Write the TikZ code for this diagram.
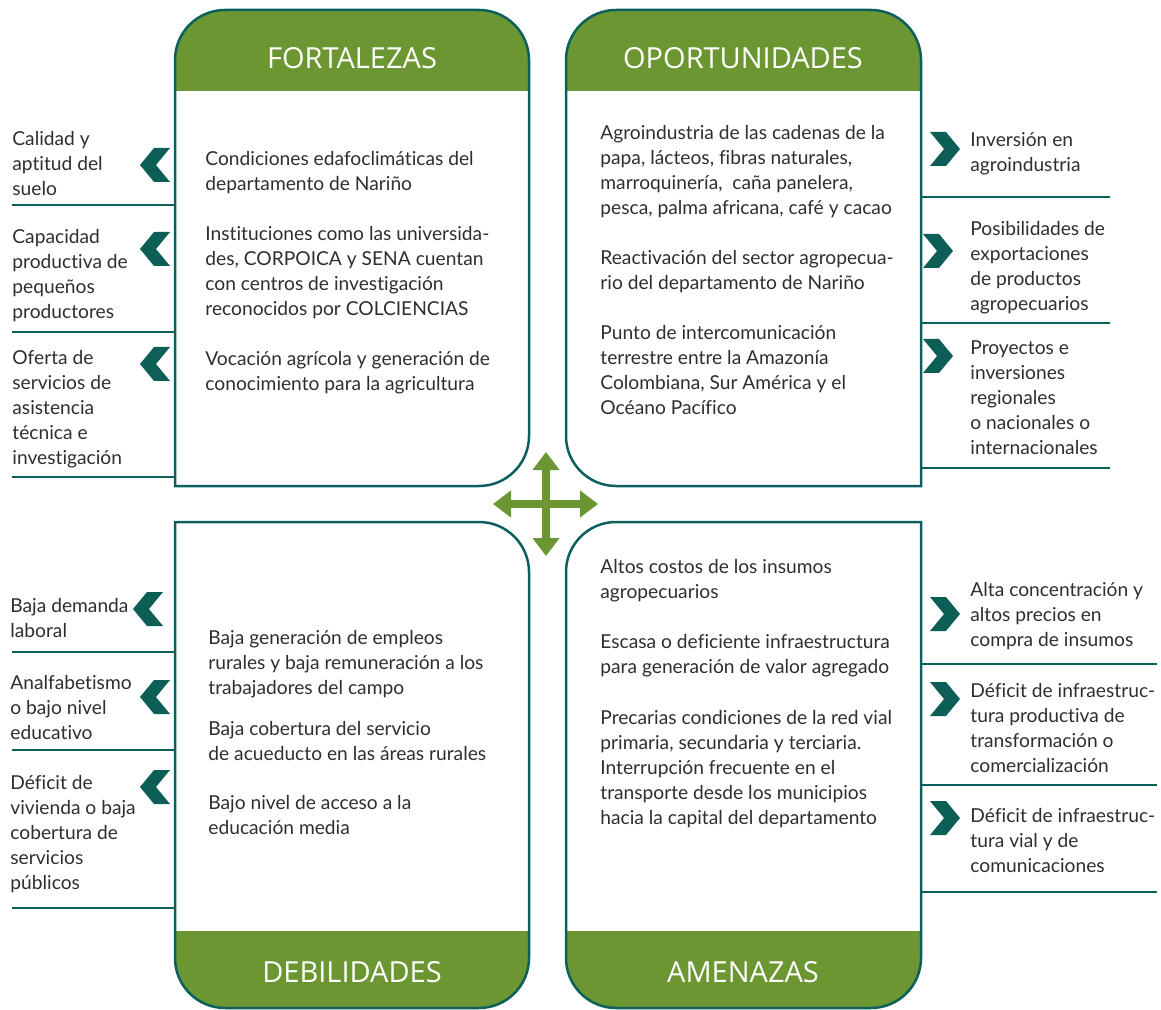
\documentclass[tikz,border=0pt]{standalone}
\usepackage{fontspec}
\usetikzlibrary{arrows.meta,positioning}
\newfontfamily\bodyfont[Ligatures=NoCommon]{Lato}
\newfontfamily\headfont{Open Sans}
\definecolor{swgreen}{HTML}{6B9632}
\definecolor{swteal}{HTML}{0B5F5D}
\definecolor{swchev}{HTML}{0C5E56}
\definecolor{swtext}{HTML}{2E2E2E}
\tikzset{
  quadline/.style={draw=swteal, line width=1.25pt},
  band/.style={fill=swgreen},
  headtext/.style={text=white, inner sep=0pt, font=\headfont\fontsize{14.5}{16}\selectfont},
  bodytext/.style={anchor=north west, align=left, inner sep=0pt, yshift=-1.5pt, text=swtext, font=\bodyfont\fontsize{9.6}{12.5}\selectfont},
  sepline/.style={draw=swteal, line width=1.3pt},
  crossarrow/.style={{Triangle[width=13pt,length=9pt]}-{Triangle[width=13pt,length=9pt]}, draw=swgreen, line width=4pt},
  chevleft/.pic={\fill[swchev] (-15,0) -- (-1,-17) -- (15,-17) -- (1,0) -- (15,17) -- (-1,17) -- cycle;},
  chevright/.pic={\fill[swchev] (15,0) -- (1,-17) -- (-15,-17) -- (-1,0) -- (-15,17) -- (1,17) -- cycle;}
}

\begin{document}
\begin{tikzpicture}[x=0.5pt, y=-0.5pt]
\useasboundingbox (0,0) rectangle (1161,1010);

% green bands
\fill[band] (175,91) -- (175,60) arc[start angle=180, end angle=270, radius=50] -- (479,10) arc[start angle=270, end angle=360, radius=50] -- (529,91) -- cycle;
\fill[band] (566,91) -- (566,60) arc[start angle=180, end angle=270, radius=50] -- (871,10) arc[start angle=270, end angle=360, radius=50] -- (921,91) -- cycle;
\fill[band] (175,931) -- (529,931) -- (529,958) arc[start angle=0, end angle=90, radius=50] -- (225,1008) arc[start angle=90, end angle=180, radius=50] -- cycle;
\fill[band] (566,931) -- (921,931) -- (921,958) arc[start angle=0, end angle=90, radius=50] -- (616,1008) arc[start angle=90, end angle=180, radius=50] -- cycle;

% the four boxes
\draw[quadline] (175,486) -- (175,60) arc[start angle=180, end angle=270, radius=50] -- (479,10) arc[start angle=270, end angle=360, radius=50] -- (529,436) arc[start angle=0, end angle=90, radius=50] -- cycle;
\draw[quadline] (921,486) -- (616,486) arc[start angle=90, end angle=180, radius=50] -- (566,60) arc[start angle=180, end angle=270, radius=50] -- (871,10) arc[start angle=270, end angle=360, radius=50] -- cycle;
\draw[quadline] (175,522) -- (479,522) arc[start angle=270, end angle=360, radius=50] -- (529,958) arc[start angle=0, end angle=90, radius=50] -- (225,1008) arc[start angle=90, end angle=180, radius=50] -- cycle;
\draw[quadline] (921,522) -- (921,958) arc[start angle=0, end angle=90, radius=50] -- (616,1008) arc[start angle=90, end angle=180, radius=50] -- (566,572) arc[start angle=180, end angle=270, radius=50] -- cycle;

% titles
\node[headtext] (fort) at (352,58) {FORTALEZAS};
\node[headtext] (opor) at (743,58) {OPORTUNIDADES};
\node[headtext] (debi) at (352,972) {DEBILIDADES};
\node[headtext] (amen) at (743,972) {AMENAZAS};

% box contents
\node[bodytext] (fort1) at (205,148) {Condiciones edafoclimáticas del\\departamento de Nariño};
\node[bodytext] (fort2) at (205,223) {Instituciones como las universida-\\des, CORPOICA y SENA cuentan\\con centros de investigación\\reconocidos por COLCIENCIAS};
\node[bodytext] (fort3) at (205,348) {Vocación agrícola y generación de\\conocimiento para la agricultura};

\node[bodytext] (opor1) at (600,122) {Agroindustria de las cadenas de la\\papa, lácteos, fibras naturales,\\marroquinería, \ caña panelera,\\pesca, palma africana, café y cacao};
\node[bodytext] (opor2) at (600,247) {Reactivación del sector agropecua-\\rio del departamento de Nariño};
\node[bodytext] (opor3) at (600,322) {Punto de intercomunicación\\terrestre entre la Amazonía\\Colombiana, Sur América y el\\Océano Pacífico};

\node[bodytext] (debi1) at (208,627) {Baja generación de empleos\\rurales y baja remuneración a los\\trabajadores del campo};
\node[bodytext] (debi2) at (208,718) {Baja cobertura del servicio\\de acueducto en las áreas rurales};
\node[bodytext] (debi3) at (208,792) {Bajo nivel de acceso a la\\educación media};

\node[bodytext] (amen1) at (600,556) {Altos costos de los insumos\\agropecuarios};
\node[bodytext] (amen2) at (600,631) {Escasa o deficiente infraestructura\\para generación de valor agregado};
\node[bodytext] (amen3) at (600,707) {Precarias condiciones de la red vial\\primaria, secundaria y terciaria.\\Interrupción frecuente en el\\transporte desde los municipios\\hacia la capital del departamento};

% side lists, left
\node[bodytext] (fortA) at (12,128) {Calidad y\\aptitud del\\suelo};
\node[bodytext] (fortB) at (12,226) {Capacidad\\productiva de\\pequeños\\productores};
\node[bodytext] (fortC) at (12,347) {Oferta de\\servicios de\\asistencia\\técnica e\\investigación};
\pic at (155,165) {chevleft};
\pic at (155,249) {chevleft};
\pic at (155,364) {chevleft};
\draw[sepline] (12,205) -- (175,205);
\draw[sepline] (12,332) -- (175,332);
\draw[sepline] (12,477) -- (175,477);

\node[bodytext] (debiA) at (10,595) {Baja demanda\\laboral};
\node[bodytext] (debiB) at (10,672) {Analfabetismo\\o bajo nivel\\educativo};
\node[bodytext] (debiC) at (10,772) {Déficit de\\vivienda o baja\\cobertura de\\servicios\\públicos};
\pic at (148,609) {chevleft};
\pic at (155,697) {chevleft};
\pic at (155,787) {chevleft};
\draw[sepline] (12,652) -- (175,652);
\draw[sepline] (12,750) -- (175,750);
\draw[sepline] (12,908) -- (175,908);

% side lists, right
\node[bodytext] (oporA) at (970,129) {Inversión en\\agroindustria};
\node[bodytext] (oporB) at (970,218) {Posibilidades de\\exportaciones\\de productos\\agropecuarios};
\node[bodytext] (oporC) at (970,337) {Proyectos e\\inversiones\\regionales\\o nacionales o\\internacionales};
\pic at (945,149) {chevright};
\pic at (938,251) {chevright};
\pic at (938,356) {chevright};
\draw[sepline] (921,197) -- (1110,197);
\draw[sepline] (921,323) -- (1110,323);
\draw[sepline] (921,468) -- (1110,468);

\node[bodytext] (amenA) at (970,579) {Alta concentración y\\altos precios en\\compra de insumos};
\node[bodytext] (amenB) at (970,680) {Déficit de infraestruc-\\tura productiva de\\transformación o\\comercialización};
\node[bodytext] (amenC) at (970,805) {Déficit de infraestruc-\\tura vial y de\\comunicaciones};
\pic at (945,614) {chevright};
\pic at (945,699) {chevright};
\pic at (945,818) {chevright};
\draw[sepline] (921,664) -- (1157,664);
\draw[sepline] (921,785) -- (1157,785);
\draw[sepline] (921,892) -- (1157,892);

% cross in the middle
\coordinate (crossW) at (493,504);
\coordinate (crossE) at (598,504);
\coordinate (crossN) at (546,452);
\coordinate (crossS) at (546,556);
\draw[crossarrow] (crossW) -- (crossE);
\draw[crossarrow] (crossN) -- (crossS);
\end{tikzpicture}
\end{document}
